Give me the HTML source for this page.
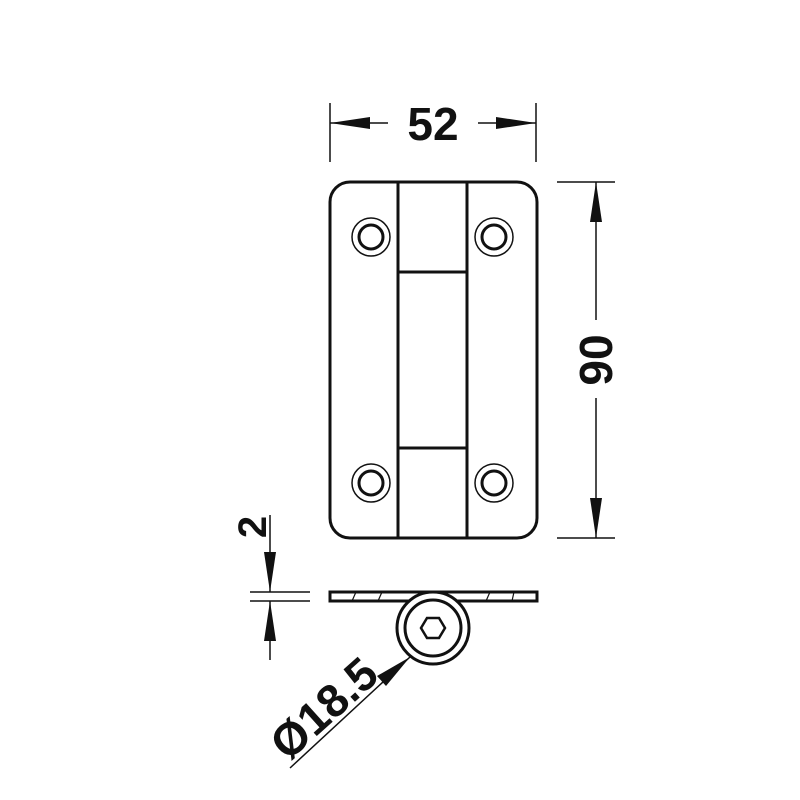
<!DOCTYPE html>
<html><head><style>body{margin:0;background:#fff}svg{display:block}</style></head><body>
<svg width="800" height="800" viewBox="0 0 800 800" xmlns="http://www.w3.org/2000/svg" font-family="Liberation Sans, sans-serif" font-weight="bold">
<rect width="800" height="800" fill="#fff"/>
<g stroke="#111" fill="none">
<!-- plate -->
<rect x="330" y="182" width="207" height="356" rx="20" stroke-width="3"/>
<line x1="398" y1="182" x2="398" y2="538" stroke-width="3"/>
<line x1="467" y1="182" x2="467" y2="538" stroke-width="3"/>
<line x1="398" y1="272" x2="467" y2="272" stroke-width="3"/>
<line x1="398" y1="448" x2="467" y2="448" stroke-width="3"/>
<g stroke-width="1.5">
<circle cx="371" cy="237" r="19"/><circle cx="494" cy="237" r="19"/>
<circle cx="371" cy="483" r="19"/><circle cx="494" cy="483" r="19"/>
</g>
<g stroke-width="3">
<circle cx="371" cy="237" r="12"/><circle cx="494" cy="237" r="12"/>
<circle cx="371" cy="483" r="12"/><circle cx="494" cy="483" r="12"/>
</g>
<!-- 52 dim -->
<g stroke-width="1.5">
<line x1="330" y1="103" x2="330" y2="162"/><line x1="536" y1="103" x2="536" y2="162"/>
<line x1="330" y1="123" x2="388" y2="123"/><line x1="478" y1="123" x2="536" y2="123"/>
<line x1="557" y1="182" x2="615" y2="182"/><line x1="557" y1="538" x2="615" y2="538"/>
<line x1="596" y1="182" x2="596" y2="320"/><line x1="596" y1="398" x2="596" y2="538"/>
<line x1="250" y1="592" x2="310" y2="592"/><line x1="250" y1="601" x2="310" y2="601"/>
<line x1="270" y1="515" x2="270" y2="592"/><line x1="270" y1="601" x2="270" y2="660"/>
<line x1="290" y1="768" x2="410" y2="657"/>
</g>
<!-- side view -->
<rect x="330" y="592" width="207" height="9" stroke-width="3" fill="#fff"/>
<g stroke-width="1.2">
<line x1="352" y1="601" x2="356" y2="592"/><line x1="378" y1="601" x2="382" y2="592"/>
<line x1="486" y1="601" x2="490" y2="592"/><line x1="512" y1="601" x2="514" y2="592"/>
</g>
<circle cx="433" cy="628" r="36" stroke-width="3" fill="#fff"/>
<circle cx="433" cy="628" r="28" stroke-width="3"/>
<polygon points="421,628 427,618 439,618 445,628 439,638 427,638" stroke-width="2.5"/>
</g>
<g fill="#111">
<polygon points="330,123 370,117 370,129"/>
<polygon points="536,123 496,117 496,129"/>
<polygon points="596,182 590,222 602,222"/>
<polygon points="596,538 590,498 602,498"/>
<polygon points="270,592 264,552 276,552"/>
<polygon points="270,601 264,641 276,641"/>
<polygon points="410,657 377,676 386,686"/>
</g>
<text x="433" y="140" font-size="46" text-anchor="middle" fill="#111">52</text>
<text transform="translate(612,360) rotate(-90)" font-size="46" text-anchor="middle" fill="#111">90</text>
<text transform="translate(266,527) rotate(-90)" font-size="40" text-anchor="middle" fill="#111">2</text>
<text transform="translate(288,762) rotate(-42)" font-size="46" fill="#111">Ø18.5</text>
</svg>
</body></html>
